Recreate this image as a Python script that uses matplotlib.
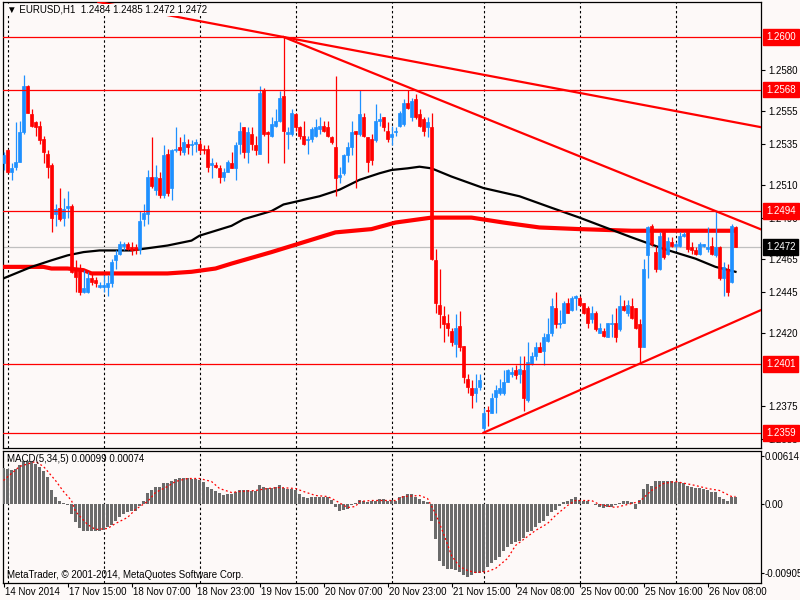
import matplotlib
matplotlib.use("Agg")
import numpy as np
import matplotlib.pyplot as plt
import matplotlib.transforms as mtransforms

plt.rcParams['font.family'] = ['Liberation Sans', 'DejaVu Sans']

# EURUSD H1 candles, bar 0 = 14 Nov 2014 23:00
opens = [
    1.2523, 1.2531, 1.2518, 1.2521, 1.2524, 1.2542, 1.2570, 1.2553, 1.2548, 1.2546,
    1.2538, 1.2529, 1.2522, 1.2492, 1.2496, 1.2490, 1.2496, 1.2497, 1.2459, 1.2458,
    1.2445, 1.2445, 1.2453, 1.2452, 1.2448, 1.2448, 1.2448, 1.2450, 1.2464, 1.2468,
    1.2473, 1.2474, 1.2472, 1.2472, 1.2471, 1.2489, 1.2492, 1.2515, 1.2507, 1.2514,
    1.2504, 1.2529, 1.2508, 1.2531, 1.2533, 1.2530, 1.2535, 1.2534, 1.2535, 1.2535,
    1.2532, 1.2532, 1.2522, 1.2522, 1.2520, 1.2515, 1.2518, 1.2523, 1.2520, 1.2535,
    1.2545, 1.2530, 1.2541, 1.2534, 1.2529, 1.2568, 1.2542, 1.2540, 1.2546, 1.2549,
    1.2564, 1.2541, 1.2541, 1.2553, 1.2545, 1.2540, 1.2537, 1.2538, 1.2540, 1.2544,
    1.2546, 1.2545, 1.2539, 1.2533, 1.2515, 1.2517, 1.2528, 1.2533, 1.2543, 1.2541,
    1.2551, 1.2539, 1.2538, 1.2537, 1.2549, 1.2551, 1.2543, 1.2539, 1.2542, 1.2546,
    1.2547, 1.2560, 1.2551, 1.2562, 1.2553, 1.2550, 1.2545, 1.2545, 1.2464, 1.2437,
    1.2430, 1.2426, 1.2421, 1.2413, 1.2424, 1.2412, 1.2392, 1.2386, 1.2383, 1.2387,
    1.2362, 1.2373, 1.2371, 1.2381, 1.2383, 1.2383, 1.2390, 1.2395, 1.2397, 1.2395,
    1.2397, 1.2379, 1.2401, 1.2406, 1.2411, 1.2409, 1.2415, 1.2420, 1.2435, 1.2425,
    1.2426, 1.2438, 1.2434, 1.2441, 1.2441, 1.2438, 1.2435, 1.2428, 1.2432, 1.2420,
    1.2421, 1.2417, 1.2425, 1.2426, 1.2422, 1.2436, 1.2432, 1.2436, 1.2435, 1.2425,
    1.2411, 1.2467, 1.2485, 1.2469, 1.2459, 1.2481, 1.2468, 1.2475, 1.2473, 1.2473,
    1.2479, 1.2481, 1.2472, 1.2470, 1.2468, 1.2473, 1.2471, 1.2473, 1.2467, 1.2472,
    1.2453, 1.2459, 1.2451, 1.2484,
]
highs = [
    1.2530, 1.2532, 1.2523, 1.2548, 1.2549, 1.2577, 1.2571, 1.2556, 1.2549, 1.2549,
    1.2540, 1.2531, 1.2523, 1.2498, 1.2508, 1.2502, 1.2506, 1.2498, 1.2464, 1.2462,
    1.2458, 1.2457, 1.2457, 1.2454, 1.2451, 1.2455, 1.2455, 1.2465, 1.2470, 1.2476,
    1.2475, 1.2475, 1.2475, 1.2474, 1.2494, 1.2498, 1.2519, 1.2539, 1.2522, 1.2518,
    1.2534, 1.2532, 1.2532, 1.2545, 1.2539, 1.2541, 1.2538, 1.2537, 1.2538, 1.2537,
    1.2534, 1.2534, 1.2526, 1.2524, 1.2522, 1.2520, 1.2525, 1.2530, 1.2536, 1.2548,
    1.2545, 1.2545, 1.2545, 1.2540, 1.2570, 1.2569, 1.2543, 1.2551, 1.2556, 1.2567,
    1.2600, 1.2545, 1.2556, 1.2554, 1.2546, 1.2549, 1.2540, 1.2545, 1.2550, 1.2551,
    1.2549, 1.2549, 1.2540, 1.2576, 1.2521, 1.2529, 1.2536, 1.2549, 1.2543, 1.2568,
    1.2554, 1.2539, 1.2541, 1.2559, 1.2554, 1.2551, 1.2548, 1.2546, 1.2545, 1.2555,
    1.2562, 1.2568, 1.2563, 1.2565, 1.2556, 1.2551, 1.2551, 1.2554, 1.2471, 1.2459,
    1.2436, 1.2431, 1.2423, 1.2431, 1.2433, 1.2412, 1.2395, 1.2391, 1.2395, 1.2395,
    1.2374, 1.2375, 1.2383, 1.2388, 1.2392, 1.2397, 1.2398, 1.2399, 1.2400, 1.2406,
    1.2406, 1.2414, 1.2408, 1.2414, 1.2414, 1.2420, 1.2429, 1.2441, 1.2445, 1.2434,
    1.2439, 1.2441, 1.2442, 1.2443, 1.2442, 1.2438, 1.2436, 1.2436, 1.2433, 1.2426,
    1.2423, 1.2426, 1.2431, 1.2435, 1.2443, 1.2440, 1.2440, 1.2441, 1.2435, 1.2428,
    1.2465, 1.2485, 1.2486, 1.2473, 1.2481, 1.2483, 1.2478, 1.2478, 1.2475, 1.2481,
    1.2481, 1.2481, 1.2475, 1.2472, 1.2475, 1.2474, 1.2484, 1.2478, 1.2494, 1.2473,
    1.2463, 1.2462, 1.2486, 1.2485,
]
lows = [
    1.2519, 1.2517, 1.2513, 1.2519, 1.2524, 1.2541, 1.2554, 1.2545, 1.2540, 1.2535,
    1.2523, 1.2514, 1.2481, 1.2485, 1.2488, 1.2485, 1.2490, 1.2456, 1.2445, 1.2443,
    1.2444, 1.2444, 1.2449, 1.2448, 1.2447, 1.2445, 1.2442, 1.2448, 1.2459, 1.2467,
    1.2470, 1.2470, 1.2467, 1.2468, 1.2468, 1.2485, 1.2486, 1.2508, 1.2504, 1.2502,
    1.2502, 1.2503, 1.2501, 1.2530, 1.2528, 1.2528, 1.2529, 1.2528, 1.2530, 1.2529,
    1.2529, 1.2518, 1.2514, 1.2520, 1.2511, 1.2512, 1.2518, 1.2520, 1.2513, 1.2529,
    1.2526, 1.2523, 1.2531, 1.2528, 1.2529, 1.2540, 1.2523, 1.2539, 1.2545, 1.2548,
    1.2523, 1.2532, 1.2540, 1.2543, 1.2538, 1.2534, 1.2529, 1.2536, 1.2539, 1.2541,
    1.2542, 1.2539, 1.2535, 1.2503, 1.2511, 1.2516, 1.2524, 1.2528, 1.2508, 1.2540,
    1.2539, 1.2518, 1.2522, 1.2536, 1.2546, 1.2543, 1.2536, 1.2534, 1.2540, 1.2545,
    1.2546, 1.2556, 1.2549, 1.2550, 1.2545, 1.2540, 1.2539, 1.2464, 1.2432, 1.2423,
    1.2414, 1.2418, 1.2412, 1.2405, 1.2409, 1.2389, 1.2383, 1.2374, 1.2378, 1.2385,
    1.2359, 1.2363, 1.2371, 1.2371, 1.2382, 1.2382, 1.2390, 1.2393, 1.2392, 1.2389,
    1.2372, 1.2378, 1.2400, 1.2403, 1.2408, 1.2400, 1.2414, 1.2418, 1.2423, 1.2423,
    1.2426, 1.2432, 1.2433, 1.2434, 1.2436, 1.2431, 1.2423, 1.2426, 1.2421, 1.2420,
    1.2417, 1.2417, 1.2417, 1.2414, 1.2421, 1.2433, 1.2430, 1.2428, 1.2422, 1.2401,
    1.2411, 1.2453, 1.2473, 1.2457, 1.2458, 1.2465, 1.2467, 1.2472, 1.2470, 1.2472,
    1.2478, 1.2469, 1.2468, 1.2467, 1.2467, 1.2472, 1.2469, 1.2467, 1.2466, 1.2452,
    1.2442, 1.2442, 1.2450, 1.2472,
]
closes = [
    1.2528, 1.2518, 1.2520, 1.2524, 1.2542, 1.2570, 1.2554, 1.2546, 1.2545, 1.2537,
    1.2530, 1.2521, 1.2490, 1.2495, 1.2489, 1.2495, 1.2497, 1.2457, 1.2454, 1.2445,
    1.2447, 1.2453, 1.2451, 1.2450, 1.2449, 1.2449, 1.2450, 1.2463, 1.2467, 1.2474,
    1.2474, 1.2471, 1.2470, 1.2470, 1.2488, 1.2493, 1.2515, 1.2509, 1.2515, 1.2504,
    1.2528, 1.2505, 1.2531, 1.2532, 1.2531, 1.2536, 1.2533, 1.2535, 1.2536, 1.2531,
    1.2531, 1.2521, 1.2523, 1.2521, 1.2515, 1.2518, 1.2524, 1.2520, 1.2534, 1.2543,
    1.2530, 1.2542, 1.2535, 1.2531, 1.2566, 1.2541, 1.2541, 1.2547, 1.2549, 1.2563,
    1.2543, 1.2542, 1.2554, 1.2545, 1.2540, 1.2535, 1.2538, 1.2544, 1.2545, 1.2546,
    1.2543, 1.2540, 1.2536, 1.2514, 1.2516, 1.2528, 1.2533, 1.2542, 1.2541, 1.2553,
    1.2540, 1.2524, 1.2525, 1.2549, 1.2550, 1.2545, 1.2538, 1.2541, 1.2543, 1.2554,
    1.2560, 1.2557, 1.2561, 1.2551, 1.2546, 1.2543, 1.2548, 1.2465, 1.2438, 1.2431,
    1.2425, 1.2423, 1.2414, 1.2423, 1.2411, 1.2393, 1.2387, 1.2382, 1.2386, 1.2391,
    1.2371, 1.2372, 1.2380, 1.2385, 1.2386, 1.2390, 1.2397, 1.2396, 1.2394, 1.2398,
    1.2380, 1.2402, 1.2406, 1.2411, 1.2408, 1.2417, 1.2419, 1.2436, 1.2425, 1.2426,
    1.2438, 1.2432, 1.2441, 1.2442, 1.2437, 1.2432, 1.2426, 1.2432, 1.2422, 1.2423,
    1.2418, 1.2426, 1.2426, 1.2417, 1.2436, 1.2434, 1.2437, 1.2429, 1.2423, 1.2411,
    1.2459, 1.2484, 1.2474, 1.2459, 1.2479, 1.2466, 1.2476, 1.2473, 1.2474, 1.2479,
    1.2480, 1.2471, 1.2470, 1.2468, 1.2474, 1.2474, 1.2472, 1.2468, 1.2472, 1.2453,
    1.2460, 1.2445, 1.2485, 1.2472,
]

# moving averages, read at sample bars
ma_black_bars = [-1, 7, 12, 16, 20, 24, 32, 38, 41, 47, 49, 57, 60, 67, 70, 79, 84,
                 89, 94, 97, 101, 104, 107, 112, 120, 129, 137, 144, 157, 165, 173, 178, 183]
ma_black = [1.2452, 1.2460, 1.2464, 1.2467, 1.2469, 1.2470, 1.2470, 1.2472, 1.2473,
            1.2476, 1.2479, 1.2485, 1.2489, 1.2494, 1.2498, 1.2503, 1.2507, 1.2513,
            1.2517, 1.2519, 1.2520, 1.2521, 1.2520, 1.2515, 1.2508, 1.2503, 1.2496,
            1.2490, 1.2478, 1.2471, 1.2465, 1.2460, 1.2457]
ma_red_bars = [-1, 10, 12, 16, 20, 22, 37, 41, 47, 53, 57, 67, 75, 83, 92, 98, 107,
               117, 125, 134, 144, 157, 173, 183]
ma_red = [1.2460, 1.2460, 1.2459, 1.2459, 1.2458, 1.2456, 1.2456, 1.2456, 1.2457,
          1.2459, 1.2462, 1.2469, 1.2475, 1.2481, 1.2483, 1.2487, 1.2490, 1.2490,
          1.2487, 1.2484, 1.2483, 1.2482, 1.2482, 1.2482]

# MACD(5,34,5) histogram and signal, in points (1e-5)
macd_pts = [
    468, 455, 442, 455, 507, 559, 559, 546, 520, 481,
    429, 351, 182, 91, 39, 5, -13, -130, -234, -312,
    -351, -351, -351, -351, -351, -338, -299, -273, -221, -169,
    -130, -104, -91, -91, -26, 39, 143, 182, 221, 221,
    273, 273, 299, 325, 338, 338, 338, 325, 325, 312,
    286, 221, 195, 169, 143, 117, 130, 130, 156, 182,
    182, 182, 169, 169, 247, 221, 208, 208, 221, 247,
    208, 195, 195, 182, 130, 91, 78, 91, 91, 91,
    91, 91, 52, -39, -91, -78, -65, -13, 13, 52,
    39, 26, 39, 39, 65, 65, 39, 52, 39, 91,
    104, 130, 130, 91, 65, 39, 26, -221, -455, -741,
    -806, -845, -845, -858, -884, -923, -949, -923, -897, -897,
    -884, -819, -767, -728, -689, -611, -559, -520, -494, -481,
    -442, -364, -351, -299, -247, -221, -156, -104, -78, -26,
    26, 39, 65, 91, 52, 39, 39, 0, -13, -39,
    -52, -39, -39, -13, 13, 39, 39, 26, -65, 52,
    195, 260, 234, 299, 299, 299, 299, 299, 286, 286,
    273, 234, 221, 208, 208, 195, 182, 156, 156, 91,
    65, 39, 91, 91,
]
signal_bars = [0, 4, 8, 10, 13, 15, 17, 18, 21, 23, 26, 28, 31, 33, 36, 38, 41, 43, 46, 49,
               52, 54, 57, 59, 63, 66, 69, 73, 75, 78, 81, 83, 86, 88, 89, 92, 95, 98, 100, 104,
               106, 108, 110, 112, 114, 116, 118, 121, 123, 126, 128, 131, 133, 136, 138, 141,
               143, 147, 149, 153, 156, 159, 162, 165, 168, 173, 176, 179, 182, 183]
signal_pts = [299, 481, 546, 481, 299, 156, 39, -104, -273, -338, -325, -260, -182, -78, 26,
              143, 221, 286, 325, 325, 286, 195, 143, 156, 169, 195, 208, 195, 156, 104,
              91, 39, -52, -39, 26, 39, 39, 39, 91, 104, 65, -130, -390, -676, -819, -871,
              -897, -884, -845, -715, -546, -429, -351, -260, -156, -26, 39, 39, -13, -52,
              -13, 26, 169, 260, 286, 234, 195, 169, 91, 91]

# objects on chart
levels = [1.2600, 1.2568, 1.2494, 1.2401, 1.2359]
last_price = 1.2472
trend_both = ((70, 1.2600), (183, 1.2548))
trend_rays = [((70, 1.2600), (178, 1.2494)), ((120, 1.2359), (159, 1.2401))]
day_bars = [1, 25, 49, 73, 97, 120, 144, 168]

# axis labels
price_ticks = [1.2580, 1.2555, 1.2535, 1.2510, 1.2490, 1.2465, 1.2445, 1.2420, 1.2375, 1.2355]
date_bars = [0, 16, 32, 48, 64, 80, 96, 112, 128, 144, 160, 176]
date_labels = ['14 Nov 2014', '17 Nov 15:00', '18 Nov 07:00', '18 Nov 23:00', '19 Nov 15:00',
               '20 Nov 07:00', '20 Nov 23:00', '21 Nov 15:00', '24 Nov 08:00', '25 Nov 00:00',
               '25 Nov 16:00', '26 Nov 08:00']

BG = '#fdf9f8'
BULL = '#1e90ff'
BEAR = '#ff0000'
W, H = 800, 600
FS = 7


def frame(x0, y0, x1, y1):
    return [x0 / W, 1 - y1 / H, (x1 - x0) / W, (y1 - y0) / H]


fig = plt.figure(figsize=(8, 6), dpi=100, facecolor=BG)
ax = fig.add_axes(frame(3, 2, 761, 448), facecolor=BG)
mx = fig.add_axes(frame(3, 451, 761, 583), facecolor=BG, sharex=ax)

XMIN, XMAX = -0.125, 189.375
ax.set_xlim(XMIN, XMAX)
ax.set_ylim(1.23497, 1.26213)
mx.set_ylim(-0.010335, 0.006825)

for a in (ax, mx):
    for s in a.spines.values():
        s.set_color('black')
        s.set_linewidth(0.9)
    for b in day_bars:
        a.axvline(b, color='black', lw=0.8, ls=(0, (2.2, 2.2)), zorder=1)

# candles
bars = np.arange(len(opens))
o = np.array(opens)
h = np.array(highs)
l = np.array(lows)
c = np.array(closes)
cols = np.where(c >= o, BULL, BEAR)
ax.vlines(bars, l, h, colors=cols, lw=0.9, zorder=5)
ax.bar(bars, np.abs(c - o), bottom=np.minimum(o, c), width=0.72, color=cols,
       edgecolor=cols, linewidth=0.5, zorder=6)

# indicators
ax.plot(ma_red_bars, ma_red, color=BEAR, lw=3, zorder=3, solid_capstyle='butt')
ax.plot(ma_black_bars, ma_black, color='black', lw=1.6, zorder=4)
ax.axhline(last_price, color='#c0c0c0', lw=0.9, zorder=2)

# objects
for lv in levels:
    ax.axhline(lv, color=BEAR, lw=0.9, zorder=7)
ax.axline(trend_both[0], trend_both[1], color=BEAR, lw=1.6, zorder=7)
for (x1, y1), (x2, y2) in trend_rays:
    slope = (y2 - y1) / (x2 - x1)
    ax.plot([x1, XMAX], [y1, y1 + slope * (XMAX - x1)], color=BEAR, lw=1.6, zorder=7)

# right price scale
ax.yaxis.tick_right()
ax.set_yticks(price_ticks)
ax.set_yticklabels([f'{v:.4f}' for v in price_ticks])
ax.tick_params(axis='y', direction='out', length=3, width=0.8, pad=2, labelsize=FS)
ax.tick_params(axis='x', bottom=False, labelbottom=False)

ytrans = mtransforms.blended_transform_factory(fig.transFigure, ax.transData)
for lv in levels + [last_price]:
    fc = 'black' if lv == last_price else BEAR
    fig.text(766 / W, lv, f'{lv:.4f}', transform=ytrans, color='white', fontsize=FS,
             va='center', ha='left', zorder=10,
             bbox=dict(boxstyle='square,pad=0.3', fc=fc, ec=fc))

fig.text(7 / W, 1 - 10 / H, '\u25bc EURUSD,H1  1.2484 1.2485 1.2472 1.2472', fontsize=FS,
         va='center', ha='left', zorder=10,
         bbox=dict(boxstyle='square,pad=0.1', fc=BG, ec='none'))

# MACD panel
macd = np.array(macd_pts) * 1e-5
signal = np.array(signal_pts) * 1e-5
mx.bar(bars, macd, width=0.72, color='#6b6b6b', zorder=3)
mx.plot(signal_bars, signal, color=BEAR, lw=0.9, ls=(0, (1.5, 2)), zorder=4)
mx.yaxis.tick_right()
mx.set_yticks([0.00614, 0.0, -0.00905])
mx.set_yticklabels(['0.00614', '0.00', '-0.00905'])
mx.tick_params(axis='y', direction='out', length=2, width=0.8, pad=0.5, labelsize=FS)
mx.set_xticks(date_bars)
mx.set_xticklabels([])
mx.tick_params(axis='x', direction='out', length=3, width=0.8)
mx.text(0.005, 0.94, 'MACD(5,34,5) 0.00099 0.00074', transform=mx.transAxes, fontsize=FS,
        va='center', ha='left', zorder=10)
mx.text(0.005, 0.06, 'MetaTrader, \u00a9 2001-2014, MetaQuotes Software Corp.',
        transform=mx.transAxes, fontsize=FS, va='center', ha='left', zorder=10)

xtrans = mtransforms.blended_transform_factory(mx.transData, fig.transFigure)
xtrans = mtransforms.offset_copy(xtrans, fig=fig, x=1.5, units='dots')
for b, lab in zip(date_bars, date_labels):
    fig.text(b, 1 - 592 / H, lab, transform=xtrans, fontsize=FS, va='center', ha='left')

fig.savefig('out.png', dpi=100, facecolor=BG)
